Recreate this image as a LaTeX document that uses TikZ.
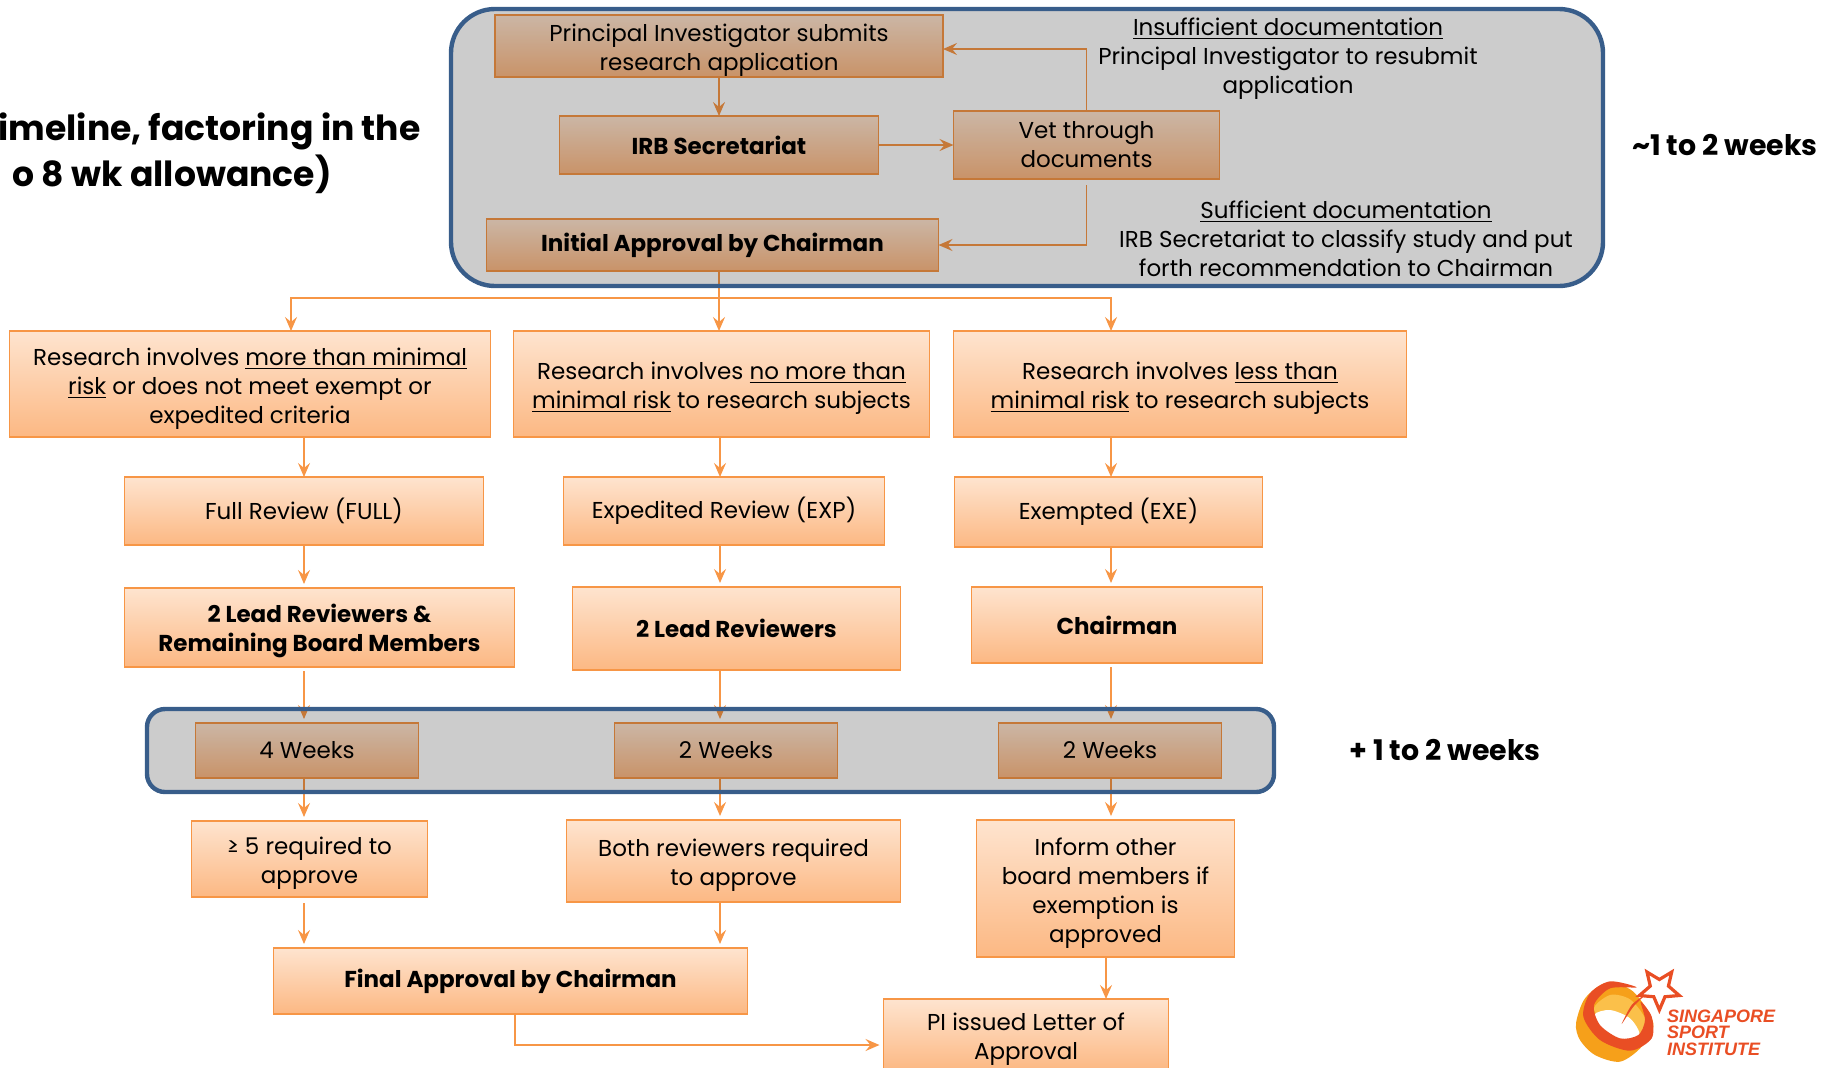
\documentclass[tikz,border=0pt]{standalone}
\usepackage{fontspec}
\setmainfont{Poppins}
\newfontfamily\logofont{Liberation Sans}
\usetikzlibrary{shapes.geometric, arrows.meta, positioning}

\definecolor{boxtop}{HTML}{FEE4CF}
\definecolor{boxbottom}{HTML}{FCB883}
\definecolor{boxline}{HTML}{F79646}
\definecolor{panelline}{HTML}{385D8A}
\definecolor{logored}{HTML}{E94E24}
\definecolor{logoamber}{HTML}{F6A01A}
\definecolor{logoyellow}{HTML}{FBC04A}
\newcommand{\topstrut}{\rule{0pt}{13pt}}

\begin{document}
\begin{tikzpicture}[
    x=0.5pt, y=-0.5pt,
    font=\fontsize{11.5}{14.5}\selectfont,
    box/.style={draw=boxline, line width=0.8pt, top color=boxtop, bottom color=boxbottom, align=center, inner sep=0pt, outer sep=0pt},
    panel/.style={draw=panelline, line width=2.2pt, fill=black, fill opacity=0.2, inner sep=0pt},
    arrow/.style={-{Stealth[length=7pt, width=6pt, inset=2.5pt]}, line width=0.8pt, color=boxline},
    note/.style={align=center, inner sep=0pt},
    side/.style={font=\fontsize{14.2}{17}\selectfont\bfseries, inner sep=0pt},
    heading/.style={anchor=east, inner sep=0pt, font=\fontsize{17.3}{22.5}\selectfont\bfseries}
]
    \useasboundingbox (0,0) rectangle (1826,1067);

    % Column lines
    \coordinate (colT) at (291,0);
    \coordinate (colA) at (304,0);
    \coordinate (colB) at (720,0);
    \coordinate (colC) at (1111,0);
    \coordinate (colD) at (1106,0);
    \coordinate (branch) at (719,298);

    % Approval stage
    \node[box, minimum width=224pt, minimum height=31pt] (submit) at (719,46) {\topstrut Principal Investigator submits\\research application};
    \node[box, minimum width=159.5pt, minimum height=29pt, below=19.5pt of submit] (secretariat) {\textbf{IRB Secretariat}};
    \node[box, minimum width=133pt, minimum height=34pt, right=37.5pt of secretariat] (vet) {Vet through\\documents};
    \node[box, minimum width=226pt, minimum height=26pt, below=22.5pt of secretariat, xshift=-3.25pt] (initial) {\textbf{Initial Approval by Chairman}};

    % Research categories
    \node[box, minimum width=208pt, minimum height=53pt, below=30pt of initial, xshift=4.5pt] (riskB) {\topstrut Research involves \underline{no more than}\\\underline{minimal risk} to research subjects};
    \node[box, minimum width=240.5pt, minimum height=53pt, left=11.5pt of riskB] (riskA) {\topstrut Research involves \underline{more than minimal}\\\underline{risk} or does not meet exempt or\\expedited criteria};
    \node[box, minimum width=226.5pt, minimum height=53pt, right=12pt of riskB] (riskC) {\topstrut Research involves \underline{less than}\\\underline{minimal risk} to research subjects};

    % Review types
    \node[box, minimum width=179.5pt, minimum height=34pt, below=20pt of riskA, xshift=27pt] (fullrev) {Full Review (FULL)};
    \node[box, minimum width=160.5pt, minimum height=34pt, below=20pt of riskB, xshift=1.25pt] (exprev) {Expedited Review (EXP)};
    \node[box, minimum width=154pt, minimum height=35pt, below=20pt of riskC, xshift=-35.75pt] (exerev) {Exempted (EXE)};

    % Reviewers
    \node[box, minimum width=195pt, minimum height=39.5pt, below=21.5pt of fullrev, xshift=7.75pt] (leadfull) {\topstrut\textbf{2 Lead Reviewers \&}\\\textbf{Remaining Board Members}};
    \node[box, minimum width=164pt, minimum height=41.5pt, below=21pt of exprev, xshift=6.25pt] (leadexp) {\textbf{2 Lead Reviewers}};
    \node[box, minimum width=145.5pt, minimum height=38pt, below=20pt of exerev, xshift=4.25pt] (chair) {\textbf{Chairman}};

    % Durations
    \node[box, minimum width=111.5pt, minimum height=27.5pt, below=28pt of leadfull, xshift=-6.25pt] (weeksA) {4 Weeks};
    \node[box, minimum width=111.5pt, minimum height=27.5pt, below=26.5pt of leadexp, xshift=-5.25pt] (weeksB) {2 Weeks};
    \node[box, minimum width=111.5pt, minimum height=27.5pt, below=30pt of chair, xshift=-3.5pt] (weeksC) {2 Weeks};

    % Outcomes
    \node[box, minimum width=118pt, minimum height=38pt, below=21.5pt of weeksA, xshift=1.25pt] (requireA) {\topstrut ≥ 5 required to\\approve};
    \node[box, minimum width=167pt, minimum height=41pt, below=21pt of weeksB, xshift=3.75pt] (requireB) {\topstrut Both reviewers required\\to approve};
    \node[box, minimum width=129pt, minimum height=68.5pt, below=21pt of weeksC, xshift=-2.25pt] (inform) {\topstrut Inform other\\board members if\\exemption is\\approved};
    \node[box, minimum width=237pt, minimum height=33pt, below=25.5pt of requireA, xshift=100.5pt] (final) {\textbf{Final Approval by Chairman}};
    \node[box, minimum width=142.5pt, minimum height=36pt, below=21pt of inform, xshift=-39.75pt] (letter) {\topstrut PI issued Letter of\\Approval};

    % Connections
    \draw[arrow] (submit.south) -- (secretariat.north);
    \draw[arrow] (secretariat.east) -- (vet.west);
    \draw[arrow] (vet.north) |- ([yshift=-1.5pt]submit.east);
    \draw[arrow] ([yshift=-3pt]vet.south) |- (initial.east);
    \draw[line width=0.8pt, color=boxline] (initial.south -| branch) -- (branch);
    \draw[arrow] (branch) -| (riskA.north -| colT);
    \draw[arrow] (branch) -- (riskB.north -| branch);
    \draw[arrow] (branch) -| (riskC.north -| colC);
    \draw[arrow] (riskA.south -| colA) -- (fullrev.north -| colA);
    \draw[arrow] (riskB.south -| colB) -- (exprev.north -| colB);
    \draw[arrow] (riskC.south -| colC) -- (exerev.north -| colC);
    \draw[arrow, shorten >=2pt] (fullrev.south -| colA) -- (leadfull.north -| colA);
    \draw[arrow, shorten >=2pt] (exprev.south -| colB) -- (leadexp.north -| colB);
    \draw[arrow, shorten >=2pt] (exerev.south -| colC) -- (chair.north -| colC);
    \draw[arrow, shorten >=2pt, shorten <=2pt] (leadfull.south -| colA) -- (weeksA.north -| colA);
    \draw[arrow, shorten >=2pt] (leadexp.south -| colB) -- (weeksB.north -| colB);
    \draw[arrow, shorten >=2pt, shorten <=2pt] (chair.south -| colC) -- (weeksC.north -| colC);
    \draw[arrow, shorten >=2pt] (weeksA.south -| colA) -- (requireA.north -| colA);
    \draw[arrow, shorten >=2pt] (weeksB.south -| colB) -- (requireB.north -| colB);
    \draw[arrow, shorten >=2pt] (weeksC.south -| colC) -- (inform.north -| colC);
    \draw[arrow, shorten <=3pt, shorten >=2pt] (requireA.south -| colA) -- (final.north -| colA);
    \draw[arrow, shorten >=2pt] (requireB.south -| colB) -- (final.north -| colB);
    \draw[arrow] (inform.south -| colD) -- (letter.north -| colD);
    \draw[arrow, shorten >=2pt] ([xshift=2.3pt]final.south) |- ([yshift=-5pt]letter.west);

    % Panels on top of the boxes
    \node[panel, rounded corners=22pt, minimum width=576pt, minimum height=138.5pt] (upperpanel) at (1027,147.5) {};
    \node[panel, rounded corners=9pt, minimum width=563.5pt, minimum height=41.5pt] (lowerpanel) at (710.5,750.5) {};

    % Notes
    \node[note] (insufficient) at (1288,59) {\underline{Insufficient documentation}\\Principal Investigator to resubmit\\application};
    \node[note] (sufficient) at (1346,239) {\underline{Sufficient documentation}\\IRB Secretariat to classify study and put\\forth recommendation to Chairman};

    % Side labels
    \node[side] (uppertime) at (1725,145) {\textasciitilde 1 to 2 weeks};
    \node[side] (lowertime) at (1445,750) {+ 1 to 2 weeks};
    \node[heading] (title) at (421,131) {imeline, factoring in the};
    \node[heading] (titletwo) at (332,174) {o 8 wk allowance)};

    % Logo
    \begin{scope}[shift={(1570,960)}, x=0.1667pt, y=-0.1667pt]
        \fill[logoamber] plot[smooth cycle] coordinates {(18,190) (45,115) (110,68) (190,95) (250,190) (215,260) (150,305) (75,285) (30,240)};
        \fill[logoyellow] plot[smooth cycle] coordinates {(72,150) (120,105) (180,118) (225,175) (220,225) (150,215)};
        \fill[white] plot[smooth cycle] coordinates {(72,165) (120,150) (180,175) (208,225) (150,240) (95,215)};
        \fill[logored] plot[smooth cycle] coordinates {(200,82) (120,64) (60,100) (40,170) (90,240) (180,272) (245,235) (245,170) (212,125) (225,180) (205,225) (150,235) (90,195) (72,135) (120,85)};
        \fill[logored] plot[smooth cycle] coordinates {(225,105) (185,135) (155,192) (190,140)};
        \node[star, star points=5, star point ratio=2.2, shape border rotate=180, draw=logored, line width=1.6pt, fill=white, minimum size=21pt, inner sep=0pt] (logostar) at (268,87) {};
        \node[anchor=north west, align=left, inner sep=0pt, text=logored, font=\logofont\fontsize{9}{8.2}\selectfont\bfseries\itshape] (logotext) at (290,148) {SINGAPORE\\SPORT\\INSTITUTE};
    \end{scope}
\end{tikzpicture}
\end{document}
